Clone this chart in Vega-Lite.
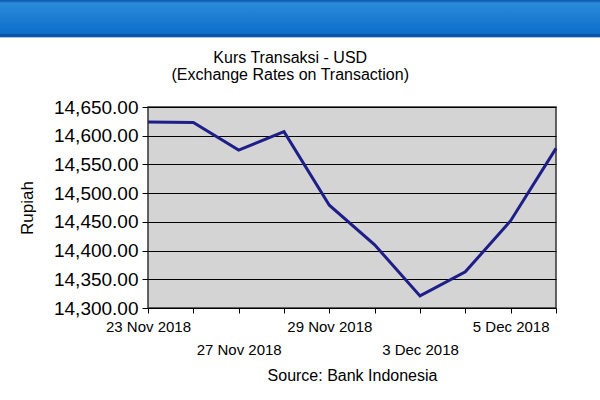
{
  "$schema": "https://vega.github.io/schema/vega-lite/v6.json",
  "padding": 0,
  "background": "white",
  "spacing": 11,
  "config": {
    "font": "Liberation Sans",
    "axis": {"labelColor": "#000000", "titleColor": "#000000", "tickColor": "#000000", "domain": false},
    "title": {"color": "#000000"}
  },
  "vconcat": [
    {
      "width": 600,
      "height": 38,
      "view": {"stroke": null},
      "data": {"values": [{"part": "header"}]},
      "mark": {
        "type": "rect",
        "color": {
          "gradient": "linear",
          "x1": 0, "y1": 0, "x2": 0, "y2": 1,
          "stops": [
            {"offset": 0, "color": "#0d58a8"},
            {"offset": 0.05, "color": "#1a70c4"},
            {"offset": 0.08, "color": "#2b8bda"},
            {"offset": 0.88, "color": "#0b6ec9"},
            {"offset": 0.9, "color": "#0a56a6"},
            {"offset": 0.965, "color": "#0a56a6"},
            {"offset": 0.97, "color": "#a6c8ea"},
            {"offset": 1, "color": "#a6c8ea"}
          ]
        }
      },
      "encoding": {}
    },
    {
      "spacing": 16,
      "hconcat": [
        {
          "width": 1,
          "height": 1,
          "view": {"stroke": null},
          "data": {"values": [{"part": "margin"}]},
          "mark": {"type": "text", "text": ""},
          "encoding": {}
        },
        {
          "width": 408,
          "height": 201,
          "view": {"fill": "#d4d4d4", "stroke": "#333333", "strokeWidth": 1.5},
          "title": {
            "text": ["Kurs Transaksi - USD", "(Exchange Rates on Transaction)"],
            "fontSize": 16,
            "fontWeight": "normal",
            "lineHeight": 17,
            "anchor": "middle",
            "frame": "bounds",
            "offset": 15
          },
          "data": {
            "values": [
              {"date": "23 Nov 2018", "rate": 14624},
              {"date": "26 Nov 2018", "rate": 14623},
              {"date": "27 Nov 2018", "rate": 14575},
              {"date": "28 Nov 2018", "rate": 14607},
              {"date": "29 Nov 2018", "rate": 14479},
              {"date": "30 Nov 2018", "rate": 14410},
              {"date": "3 Dec 2018", "rate": 14321},
              {"date": "4 Dec 2018", "rate": 14363},
              {"date": "5 Dec 2018", "rate": 14452},
              {"date": "6 Dec 2018", "rate": 14578}
            ]
          },
          "mark": {"type": "line", "color": "#1e1e88", "strokeWidth": 3},
          "encoding": {
            "x": {
              "field": "date",
              "type": "nominal",
              "sort": null,
              "scale": {"type": "point", "padding": 0},
              "axis": {
                "title": "Source: Bank Indonesia",
                "titleFontSize": 16,
                "titleFontWeight": "normal",
                "titlePadding": 10,
                "labelAngle": 0,
                "labelFontSize": 15,
                "labelPadding": 6,
                "labelLineHeight": 23,
                "labelOverlap": false,
                "labelBound": false,
                "tickSize": 5,
                "grid": false,
                "labelExpr": "indexof(['23 Nov 2018','29 Nov 2018','5 Dec 2018'], datum.value) >= 0 ? datum.value : (indexof(['27 Nov 2018','3 Dec 2018'], datum.value) >= 0 ? ['', datum.value] : '')"
              }
            },
            "y": {
              "field": "rate",
              "type": "quantitative",
              "scale": {"domain": [14300, 14650], "nice": false, "zero": false},
              "axis": {
                "title": "Rupiah",
                "titleFontSize": 17,
                "titleFontWeight": "normal",
                "titlePadding": 17,
                "values": [14300, 14350, 14400, 14450, 14500, 14550, 14600, 14650],
                "format": ",.2f",
                "labelFontSize": 19,
                "labelPadding": 4,
                "tickSize": 6,
                "grid": true,
                "gridColor": "#000000",
                "gridWidth": 1,
                "gridOpacity": 1
              }
            }
          }
        }
      ]
    }
  ]
}
